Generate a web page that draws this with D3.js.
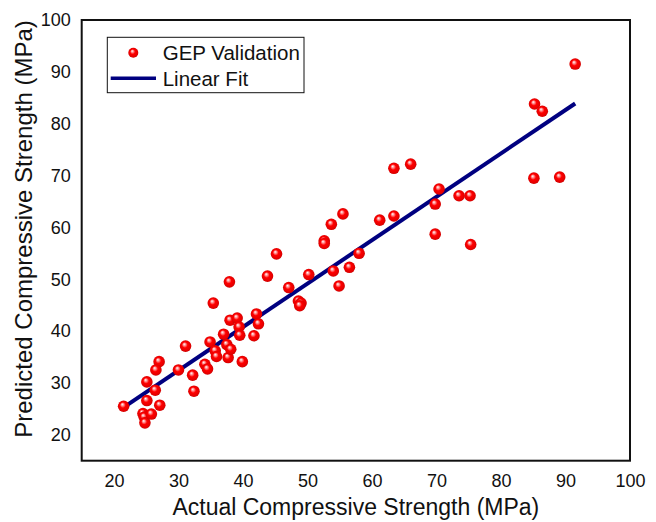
<!DOCTYPE html>
<html>
<head>
<meta charset="utf-8">
<script src="https://cdn.jsdelivr.net/npm/d3@7"></script>
<style>
  html, body { margin: 0; padding: 0; background: #fff; }
  svg { display: block; font-family: "Liberation Sans", Arial, sans-serif; }
</style>
</head>
<body>
<svg id="chart" width="656" height="522"></svg>
<script>
// ---- data ----
const actual = [21.5, 24.5, 24.7, 24.8, 25.8, 25.1, 25.1, 26.4, 27.1, 27.0,
                26.5, 30.0, 31.1, 32.2, 32.4, 34.1, 34.5, 34.9, 35.4, 35.7,
                35.9, 37.0, 37.5, 37.7, 38.0, 37.9, 38.1, 39.1, 39.4, 39.5,
                39.9, 41.7, 42.1, 42.4, 43.8, 45.2, 47.1, 48.6, 49.0, 48.8,
                50.2, 52.6, 52.6, 53.7, 54.0, 54.9, 55.5, 56.5, 58.0, 61.2,
                63.4, 63.4, 66.0, 69.8, 69.8, 70.4, 73.5, 75.2, 75.3, 85.1,
                89.1, 85.2, 86.4, 91.5];
const predicted = [25.5, 24.1, 23.4, 22.3, 24.0, 26.6, 30.2, 28.6, 25.7, 34.1,
                   32.5, 32.5, 37.1, 31.5, 28.4, 33.6, 32.7, 37.9, 45.4, 36.2,
                   35.1, 39.4, 37.4, 34.9, 42.1, 49.5, 36.5, 42.5, 40.8, 39.2,
                   34.1, 39.1, 43.3, 41.4, 50.6, 54.9, 48.4, 45.8, 45.4, 44.9,
                   50.9, 57.4, 56.9, 60.6, 51.6, 48.7, 62.6, 52.3, 55.0, 61.4,
                   62.2, 71.4, 72.2, 64.5, 58.7, 67.4, 66.1, 66.1, 56.7, 69.5,
                   69.7, 83.8, 82.4, 91.5];
const fitX = [21.5, 91.5];
const fitY = [25.3, 83.9];
const xTicks = [20, 30, 40, 50, 60, 70, 80, 90, 100];
const yTicks = [20, 30, 40, 50, 60, 70, 80, 90, 100];
const seriesNames = ["GEP Validation", "Linear Fit"];
const xTitle = "Actual Compressive Strength (MPa)";
const yTitle = "Predicted Compressive Strength (MPa)";

// ---- layout ----
const svg = d3.select("#chart");
const L = 81.7, R = 630, T = 20, B = 460.7;
const x = d3.scaleLinear().domain([15, 100]).range([L, R]);
const y = d3.scaleLinear().domain([15, 100]).range([B, T]);

// gradient for sphere markers
const defs = svg.append("defs");
const grad = defs.append("radialGradient").attr("id", "ball")
  .attr("cx", "50%").attr("cy", "50%").attr("r", "55%")
  .attr("fx", "38%").attr("fy", "32%");
grad.append("stop").attr("offset", "0%").attr("stop-color", "#ffffff");
grad.append("stop").attr("offset", "22%").attr("stop-color", "#ff8a8a");
grad.append("stop").attr("offset", "45%").attr("stop-color", "#ff0000");
grad.append("stop").attr("offset", "85%").attr("stop-color", "#e00000");
grad.append("stop").attr("offset", "100%").attr("stop-color", "#b00000");

// axes (labels only, no tick marks)
const xAxis = svg.append("g").attr("transform", `translate(0,${B})`)
  .call(d3.axisBottom(x).tickValues(xTicks).tickSize(0).tickPadding(14));
const yAxis = svg.append("g").attr("transform", `translate(${L},0)`)
  .call(d3.axisLeft(y).tickValues(yTicks).tickSize(0).tickPadding(11));
[xAxis, yAxis].forEach(g => {
  g.select(".domain").remove();
  g.selectAll("text").attr("font-size", 18).attr("fill", "#111")
    .attr("font-family", "Liberation Sans, Arial, sans-serif");
});

// frame
svg.append("rect").attr("x", L).attr("y", T).attr("width", R - L).attr("height", B - T)
  .attr("fill", "none").attr("stroke", "#111").attr("stroke-width", 2);

// fit line
svg.append("line")
  .attr("x1", x(fitX[0])).attr("y1", y(fitY[0]))
  .attr("x2", x(fitX[1])).attr("y2", y(fitY[1]))
  .attr("stroke", "#000080").attr("stroke-width", 4);

// points
svg.append("g").selectAll("circle")
  .data(actual.map((a, i) => [a, predicted[i]]))
  .join("circle")
  .attr("cx", d => x(d[0])).attr("cy", d => y(d[1])).attr("r", 5.8)
  .attr("fill", "url(#ball)");

// legend
const lg = svg.append("g");
lg.append("rect").attr("x", 107.3).attr("y", 37.3).attr("width", 196.7).attr("height", 55.4)
  .attr("fill", "#fff").attr("stroke", "#111").attr("stroke-width", 1);
lg.append("circle").attr("cx", 133.3).attr("cy", 52.7).attr("r", 5).attr("fill", "url(#ball)");
lg.append("line").attr("x1", 110.7).attr("x2", 156).attr("y1", 78.3).attr("y2", 78.3)
  .attr("stroke", "#000080").attr("stroke-width", 3.5);
lg.selectAll("text.lt").data(seriesNames).join("text")
  .attr("x", 162.7).attr("y", (d, i) => i === 0 ? 52.7 : 78.3)
  .attr("dominant-baseline", "central")
  .attr("font-size", 20.5).attr("fill", "#111").text(d => d);

// axis titles
svg.append("text").attr("x", (L + R) / 2).attr("y", 507)
  .attr("text-anchor", "middle").attr("dominant-baseline", "central")
  .attr("font-size", 23).attr("fill", "#111").text(xTitle);
svg.append("text").attr("transform", "translate(23,229) rotate(-90)")
  .attr("text-anchor", "middle").attr("dominant-baseline", "central")
  .attr("font-size", 24).attr("fill", "#111").text(yTitle);
</script>
</body>
</html>
